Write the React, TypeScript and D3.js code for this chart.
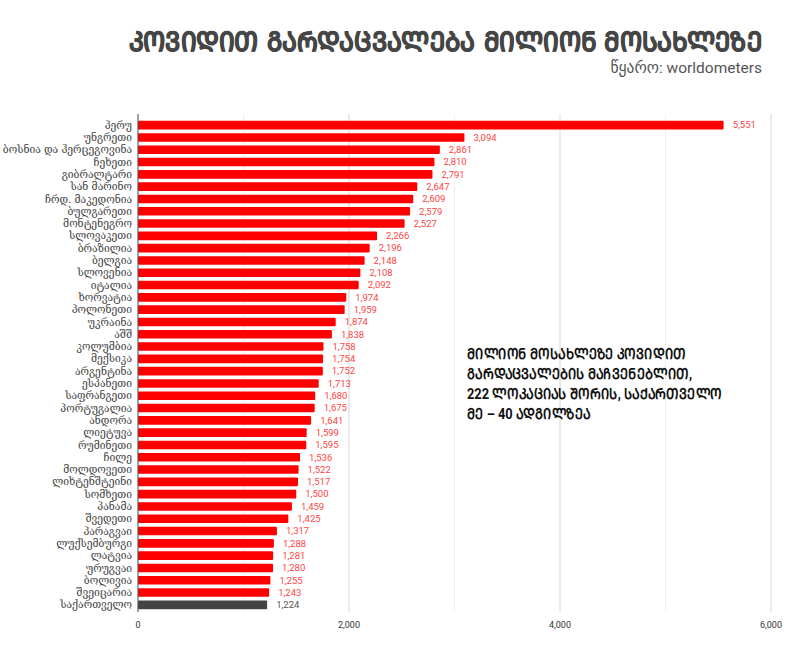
import React from "react";
import * as d3 from "d3";

const countries = [
  "პერუ", "უნგრეთი", "ბოსნია და ჰერცეგოვინა", "ჩეხეთი", "გიბრალტარი", "სან მარინო",
  "ჩრდ. მაკედონია", "ბულგარეთი", "მონტენეგრო", "სლოვაკეთი", "ბრაზილია", "ბელგია",
  "სლოვენია", "იტალია", "ხორვატია", "პოლონეთი", "უკრაინა", "აშშ", "კოლუმბია", "მექსიკა",
  "არგენტინა", "ესპანეთი", "საფრანგეთი", "პორტუგალია", "ანდორა", "ლიეტუვა", "რუმინეთი",
  "ჩილე", "მოლდოვეთი", "ლიხტენშტეინი", "სომხეთი", "პანამა", "შვედეთი", "პარაგვაი",
  "ლუქსემბურგი", "ლატვია", "ურუგვაი", "ბოლივია", "შვეიცარია", "საქართველო",
];
const deaths = [
  5551, 3094, 2861, 2810, 2791, 2647, 2609, 2579, 2527, 2266, 2196, 2148, 2108, 2092,
  1974, 1959, 1874, 1838, 1758, 1754, 1752, 1713, 1680, 1675, 1641, 1599, 1595, 1536,
  1522, 1517, 1500, 1459, 1425, 1317, 1288, 1281, 1280, 1255, 1243, 1224,
];
const highlight = "საქართველო";
const majorTicks = [0, 2000, 4000, 6000];
const minorTicks = [1000, 3000, 5000];

const title = "ᲙᲝᲕᲘᲓᲘᲗ ᲒᲐᲠᲓᲐᲪᲕᲐᲚᲔᲑᲐ ᲛᲘᲚᲘᲝᲜ ᲛᲝᲡᲐᲮᲚᲔᲖᲔ";
const subtitle = "წყარო: worldometers";
const noteLines = [
  "ᲛᲘᲚᲘᲝᲜ ᲛᲝᲡᲐᲮᲚᲔᲖᲔ ᲙᲝᲕᲘᲓᲘᲗ",
  "ᲒᲐᲠᲓᲐᲪᲕᲐᲚᲔᲑᲘᲡ ᲛᲐᲩᲕᲔᲜᲔᲑᲚᲘᲗ,",
  "222 ᲚᲝᲙᲐᲪᲘᲐᲡ ᲨᲝᲠᲘᲡ, ᲡᲐᲥᲐᲠᲗᲕᲔᲚᲝ",
  "ᲛᲔ – 40 ᲐᲓᲒᲘᲚᲖᲔᲐ",
];

export default function App() {
  const W = 800, H = 668;
  const x = d3.scaleLinear().domain([0, 6000]).range([138, 771]);
  const y = d3.scaleBand<string>().domain(countries).range([119, 611]).paddingInner(0.3).paddingOuter(0.15);
  const fmt = d3.format(",");
  const gridTop = 114, gridBottom = 612;
  return (
    <svg width={W} height={H} style={{ position: "absolute", left: 0, top: 0, background: "#fff" }}>
      <rect width={W} height={H} fill="#fff" />
      <g transform="translate(762,51) scale(0.915,1)">
        <text x={0} y={0} textAnchor="end" fontFamily="DejaVu Sans" fontWeight="bold" fontSize={27}
          fill="#454545" stroke="#454545" strokeWidth={0.7}>{title}</text>
      </g>
      <text x={762} y={73} textAnchor="end" fontFamily="Roboto, DejaVu Sans" fontSize={15.5} fill="#555">{subtitle}</text>
      {minorTicks.map((t) => (
        <line key={"m" + t} x1={x(t)} x2={x(t)} y1={gridTop} y2={gridBottom} stroke="#efefef" />
      ))}
      {majorTicks.slice(1).map((t) => (
        <line key={"M" + t} x1={x(t)} x2={x(t)} y1={gridTop} y2={gridBottom} stroke="#d6d6d6" />
      ))}
      {countries.map((c, i) => {
        const v = deaths[i];
        const yy = y(c)!;
        const isH = c === highlight;
        return (
          <g key={c}>
            <rect x={x(0)} y={yy} width={x(v) - x(0)} height={y.bandwidth()} rx={1} fill={isH ? "#444444" : "#ff0000"} />
            <text x={x(v) + 9} y={yy + y.bandwidth() / 2} dy="0.35em" fontFamily="Roboto" fontSize={9.5} fill={isH ? "#555" : "#ff4444"}>{fmt(v)}</text>
            <text x={132} y={yy + y.bandwidth() / 2} dy="0.35em" textAnchor="end" fontFamily="DejaVu Serif" fontSize={10.3} fill="#444">{c}</text>
          </g>
        );
      })}
      <line x1={x(0)} x2={x(0)} y1={gridTop} y2={gridBottom} stroke="#444" />
      {majorTicks.map((t) => (
        <text key={"l" + t} x={x(t)} y={628} textAnchor="middle" fontFamily="Roboto" fontSize={9} fill="#333">{fmt(t)}</text>
      ))}
      <g transform="translate(467,0) scale(0.855,1)">
        {noteLines.map((l, i) => (
          <text key={i} x={0} y={359 + i * 20} fontFamily="Roboto, DejaVu Sans" fontWeight="bold" fontSize={15} fill="#111">{l}</text>
        ))}
      </g>
    </svg>
  );
}
